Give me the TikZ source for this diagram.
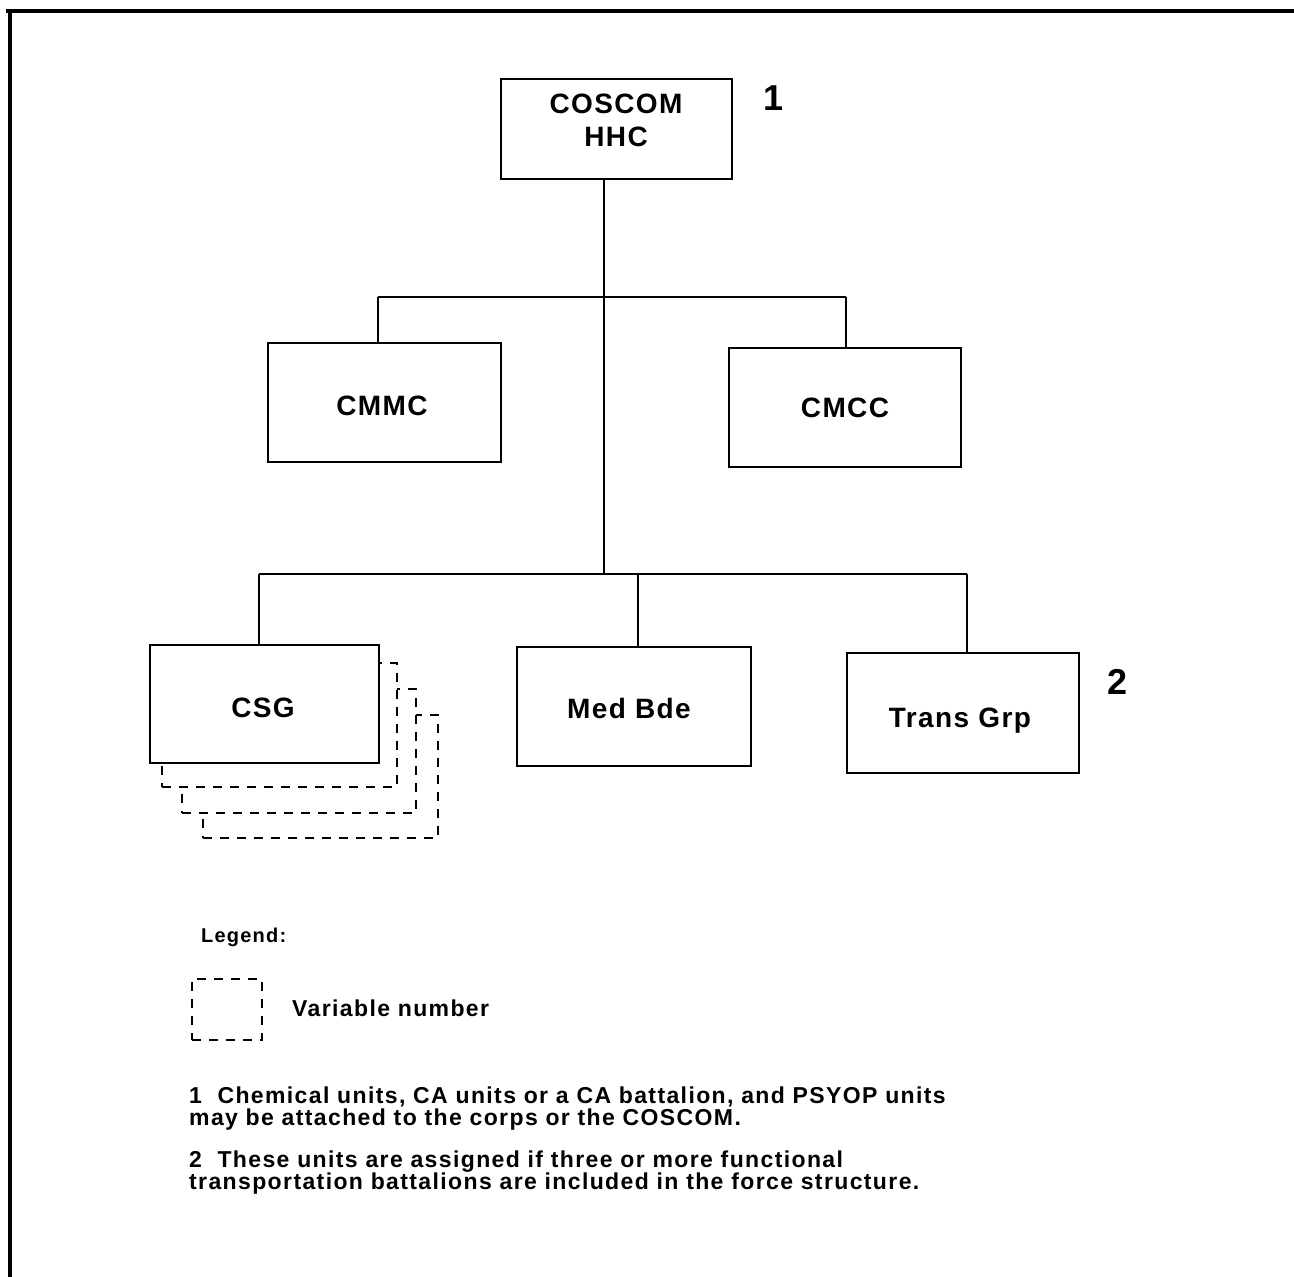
\documentclass[tikz,border=0pt]{standalone}
\usepackage{fontspec}
\setmainfont{Liberation Sans}
\newfontfamily\boxfont[LetterSpace=5]{Liberation Sans}
\newfontfamily\notefont[LetterSpace=6]{Liberation Sans}
\begin{document}
\begin{tikzpicture}[x=1pt,y=-1pt,
  unitbox/.style={draw, line width=2.2pt, fill=white, inner sep=0pt},
  boxtext/.style={font=\boxfont\fontsize{28}{33}\selectfont\bfseries, align=center, inner sep=0pt},
  notenum/.style={font=\fontsize{36}{36}\selectfont\bfseries, inner sep=0pt},
  link/.style={line width=1.8pt},
  extra/.style={draw, line width=2pt, fill=white, dash pattern=on 9pt off 8pt},
  small/.style={font=\notefont\fontsize{23}{22}\selectfont\bfseries, align=left, inner sep=0pt, anchor=west}
]
\useasboundingbox (0,0) rectangle (1294,1277);
% page frame (top and left edges)
\draw[line width=4pt] (6,11) -- (1294,11);
\draw[line width=4pt] (10,9) -- (10,1277);

% headquarters
\node[unitbox, minimum width=231pt, minimum height=100pt] (coscom) at (616.5,129) {};
\node[boxtext] (coscomtxt) at (616,120) {COSCOM\\HHC};
\node[notenum] (n1) at (774,98) {1};

% first tier
\node[unitbox, minimum width=233pt, minimum height=119pt] (cmmc) at (384.5,402.5) {};
\node[boxtext] (cmmctxt) at (382,406) {CMMC};
\node[unitbox, minimum width=232pt, minimum height=119pt] (cmcc) at (845,407.5) {};
\node[boxtext] (cmcctxt) at (845,408) {CMCC};

% second tier: stacked groups behind CSG
\node[extra, minimum width=235pt, minimum height=123pt] (csg3) at (320.5,776.5) {};
\node[extra, minimum width=234pt, minimum height=124pt] (csg2) at (299,751) {};
\node[extra, minimum width=235pt, minimum height=124pt] (csg1) at (279.5,725) {};
\node[unitbox, minimum width=229pt, minimum height=118pt] (csg) at (264.5,704) {};
\node[boxtext] (csgtxt) at (263,708) {CSG};

\node[unitbox, minimum width=234pt, minimum height=119pt] (med) at (634,706.5) {};
\node[boxtext] (medtxt) at (629,708) {Med Bde};
\node[unitbox, minimum width=232pt, minimum height=120pt] (trans) at (963,713) {};
\node[boxtext] (transtxt) at (960,721) {Trans Grp};
\node[notenum] (n2) at (1117,682) {2};

% connector junctions
\coordinate (bus1) at (604,297);
\coordinate (bus2) at (604,574);
\coordinate (b1l) at (378,297);
\coordinate (b1r) at (846,297);
\coordinate (b2l) at (259,574);
\coordinate (b2m) at (638,574);
\coordinate (b2r) at (967,574);

\draw[link] (coscom.south -| bus1) -- (bus2);
\draw[link] (b1l) -- (b1r);
\draw[link] (b1l) -- (cmmc.north -| b1l);
\draw[link] (b1r) -- (cmcc.north -| b1r);
\draw[link] (b2l) -- (b2r);
\draw[link] (b2l) -- (csg.north -| b2l);
\draw[link] (b2m) -- (med.north -| b2m);
\draw[link] (b2r) -- (trans.north -| b2r);

% legend
\node[small, anchor=base west, font=\notefont\fontsize{20}{22}\selectfont\bfseries] (legend) at (201,942) {Legend:};
\node[extra, minimum width=70pt, minimum height=61pt] (legbox) at (227,1009.5) {};
\node[small] (legtxt) at (292,1008) {Variable number};

% notes
\node[small, anchor=north west] (note1) at (189,1087)
  {1\ \ Chemical units, CA units or a CA battalion, and PSYOP units\\may be attached to the corps or the COSCOM.};
\node[small, anchor=north west] (note2) at (189,1151)
  {2\ \ These units are assigned if three or more functional\\transportation battalions are included in the force structure.};
\end{tikzpicture}
\end{document}
